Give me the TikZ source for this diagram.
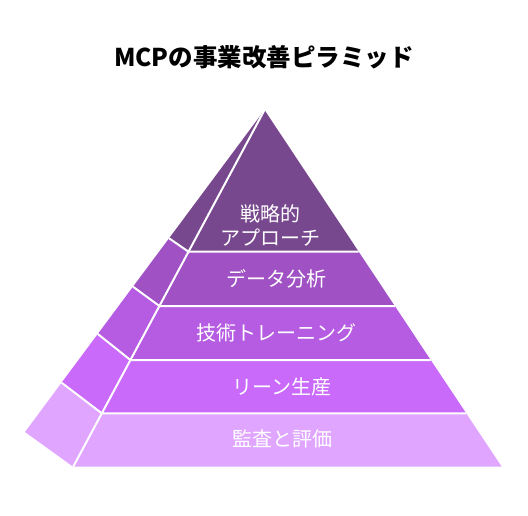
\documentclass[tikz,border=0pt]{standalone}
\usepackage{fontspec}
\newfontfamily\cjk{Noto Sans CJK JP}
\definecolor{lA}{HTML}{78488E}
\definecolor{lB}{HTML}{A052C4}
\definecolor{lC}{HTML}{B55CE2}
\definecolor{lD}{HTML}{C96AFA}
\definecolor{lE}{HTML}{E0A6FF}
\tikzset{
  lbl/.style={text=white,font=\cjk\fontsize{20}{24}\selectfont,align=center,inner sep=0pt},
  sep/.style={draw=white,line width=2pt},
}
\begin{document}
\begin{tikzpicture}[x=1pt,y=-1pt]
\useasboundingbox (0,0) rectangle (528,516);
% apex
\coordinate (T) at (264.5,110);
% front-left edge points
\coordinate (F1) at (188.5,251.7);
\coordinate (F2) at (159.4,306);
\coordinate (F3) at (130.4,360);
\coordinate (F4) at (101.8,413.3);
\coordinate (F5) at (73.2,466.7);
% right edge points
\coordinate (R1) at (358.7,251.7);
\coordinate (R2) at (394.8,306);
\coordinate (R3) at (430.7,360);
\coordinate (R4) at (466.2,413.3);
\coordinate (R5) at (501.7,466.7);
% outer (side) edge points
\coordinate (S1) at (169.1,238.3);
\coordinate (S2) at (133.0,286.7);
\coordinate (S3) at (97.8,334);
\coordinate (S4) at (61.6,382.7);
\coordinate (S5) at (25,432);
% fills: front
\fill[lA] (T) -- (R1) -- (F1) -- cycle;
\fill[lB] (F1) -- (R1) -- (R2) -- (F2) -- cycle;
\fill[lC] (F2) -- (R2) -- (R3) -- (F3) -- cycle;
\fill[lD] (F3) -- (R3) -- (R4) -- (F4) -- cycle;
\fill[lE] (F4) -- (R4) -- (R5) -- (F5) -- cycle;
% fills: side
\fill[lA] (T) -- (F1) -- (S1) -- cycle;
\fill[lB] (S1) -- (F1) -- (F2) -- (S2) -- cycle;
\fill[lC] (S2) -- (F2) -- (F3) -- (S3) -- cycle;
\fill[lD] (S3) -- (F3) -- (F4) -- (S4) -- cycle;
\fill[lE] (S4) -- (F4) -- (F5) -- (S5) -- cycle;
% separators
\draw[sep] (T) -- (F5);
\draw[sep] (S1) -- (F1) -- (R1);
\draw[sep] (S2) -- (F2) -- (R2);
\draw[sep] (S3) -- (F3) -- (R3);
\draw[sep] (S4) -- (F4) -- (R4);
% labels
\node[lbl] (a) at (270,225) {戦略的\\アプローチ};
\node[lbl] (b) at (276,279) {データ分析};
\node[lbl] (c) at (276,333) {技術トレーニング};
\node[lbl] (d) at (282,387) {リーン生産};
\node[lbl] (e) at (282,439) {監査と評価};
% title
\node[font=\cjk\bfseries\fontsize{24.5}{28}\selectfont,inner sep=0pt] (title) at (264,57) {MCPの事業改善ピラミッド};
\end{tikzpicture}
\end{document}
